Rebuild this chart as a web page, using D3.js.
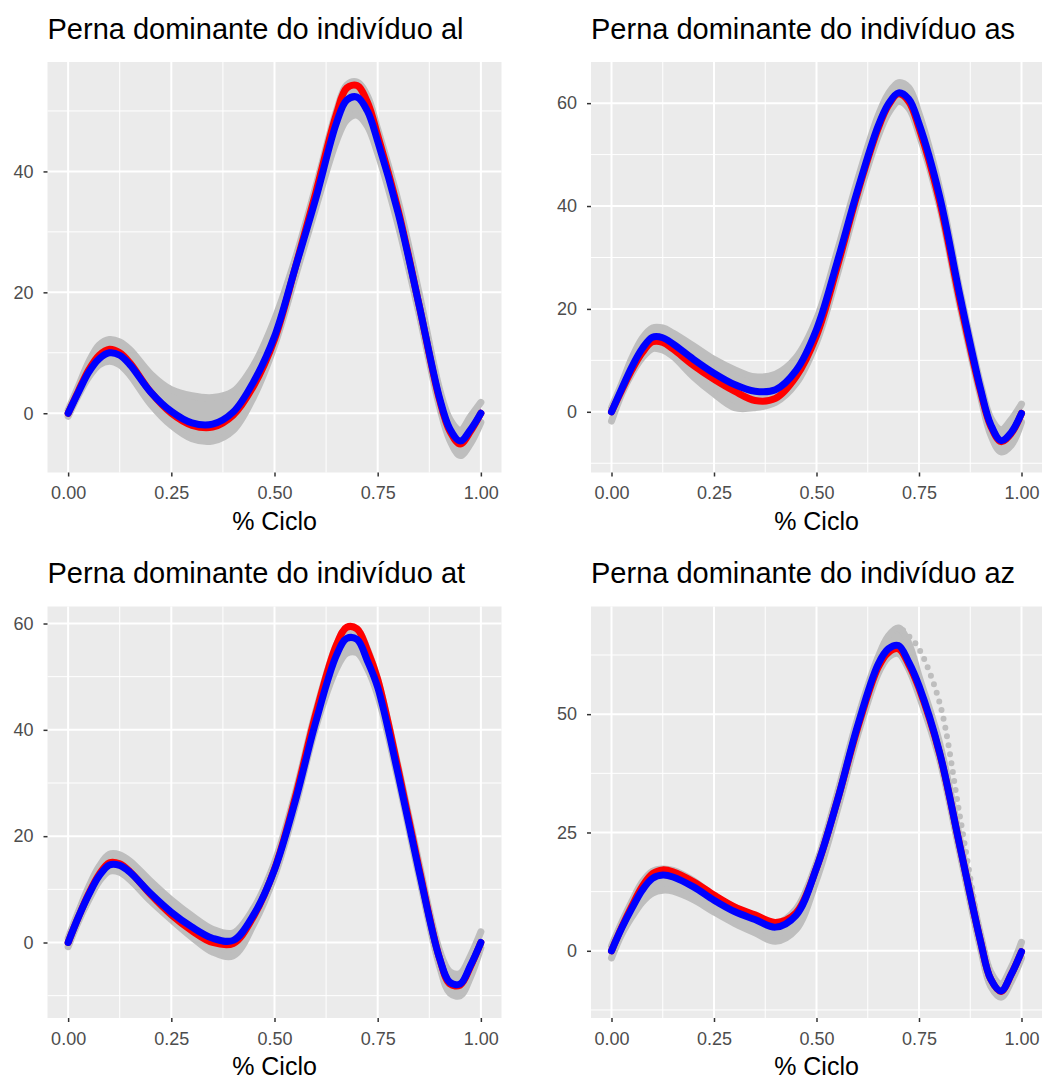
<!DOCTYPE html>
<html>
<head>
<meta charset="utf-8">
<script src="https://cdn.jsdelivr.net/npm/d3@7"></script>
<style>
  body { margin: 0; background: #fff; }
  svg { display: block; font-family: "Liberation Sans", Arial, sans-serif; }
</style>
</head>
<body>
<svg id="chart" width="1049" height="1079"></svg>
<script>
// sample positions along the cycle (same for every series)
const xKnots = [0, .025, .05, .075, .1, .125, .15, .2, .25, .3, .35, .4, .45, .5, .55, .6, .65, .675, .7, .725, .75, .8, .85, .9, .925, .95, .975, 1];
const xTicks = [0, 0.25, 0.5, 0.75, 1];

// individuo al
const alRed    = [0, 3.7, 7.2, 9.6, 10.6, 10.0, 8.3, 3.5, 0.0, -2.0, -2.3, -0.3, 4.6, 12.2, 24.0, 36.5, 49.5, 53.8, 54.2, 51.5, 46.0, 33.5, 18.0, 2.2, -3.0, -5.1, -3.0, 0];
const alBlue   = [0, 3.5, 6.8, 9.0, 10.0, 9.6, 8.0, 3.5, 0.3, -1.6, -1.8, 0.2, 5.3, 12.7, 24.0, 35.5, 48.0, 51.8, 52.3, 50.0, 45.0, 33.0, 18.0, 2.5, -2.6, -4.6, -2.7, 0];
const alGrayHi = [0.5, 4.5, 8.5, 11.3, 12.2, 11.8, 10.5, 6.5, 3.9, 2.9, 2.6, 3.6, 8.0, 15.5, 25.5, 37.5, 50.0, 54.3, 54.8, 52.5, 47.0, 35.0, 20.0, 4.0, -1.0, -2.8, -0.5, 1.8];
const alGrayLo = [-0.5, 3.0, 6.0, 8.0, 8.6, 8.0, 6.3, 1.5, -2.0, -4.2, -4.6, -2.8, 2.8, 11.2, 22.5, 34.0, 45.0, 48.5, 49.3, 47.5, 43.0, 31.0, 16.5, 1.0, -4.5, -7.0, -5.0, -1.5];
const alYTicks = [0, 20, 40];

// individuo as
const asRed    = [0, 4.2, 8.2, 11.5, 13.6, 13.5, 12.2, 9.0, 6.3, 4.0, 2.2, 2.6, 6.8, 14.8, 28.0, 42.5, 55.0, 59.5, 61.8, 60.3, 55.2, 41.0, 21.5, 4.0, -2.8, -5.8, -4.2, -0.3];
const asBlue   = [0, 4.5, 8.8, 12.3, 14.5, 14.4, 13.2, 10.2, 7.5, 5.3, 4.0, 4.3, 8.0, 16.0, 29.0, 43.0, 55.5, 59.8, 62.0, 60.8, 56.0, 42.0, 22.5, 4.5, -2.5, -5.6, -4.0, -0.3];
const asGrayHi = [0.8, 5.5, 10.5, 14.3, 16.3, 16.3, 15.3, 12.8, 10.2, 8.2, 6.8, 7.3, 10.5, 18.0, 31.0, 45.0, 57.5, 61.8, 64.0, 63.0, 58.0, 43.5, 23.5, 5.5, -1.2, -3.5, -1.5, 1.5];
const asGrayLo = [-1.8, 3.5, 7.5, 10.5, 12.3, 12.0, 10.8, 6.8, 3.5, 0.8, 0.8, 1.8, 5.5, 13.5, 26.5, 41.0, 53.5, 58.0, 60.3, 59.0, 54.0, 40.0, 20.5, 3.0, -4.5, -7.8, -6.5, -2.0];
const asYTicks = [0, 20, 40, 60];

// individuo at
const atRed    = [0, 4.8, 9.2, 12.8, 15.0, 14.8, 13.3, 9.0, 5.2, 2.2, 0.0, -0.2, 5.0, 13.8, 27.2, 43.0, 56.0, 59.3, 59.0, 55.0, 49.5, 32.5, 14.0, -3.0, -7.8, -8.0, -4.5, 0];
const atBlue   = [0, 4.8, 9.0, 12.5, 14.6, 14.5, 13.2, 9.2, 5.7, 2.9, 0.8, 0.4, 5.3, 13.7, 26.5, 41.5, 54.0, 57.2, 57.0, 53.0, 48.0, 31.5, 13.5, -3.0, -7.5, -7.8, -4.3, 0];
const atGrayHi = [0.8, 5.8, 10.5, 14.3, 16.6, 16.5, 15.3, 11.5, 8.0, 5.0, 2.5, 1.8, 6.5, 15.0, 28.0, 43.5, 56.0, 59.2, 59.0, 55.2, 49.5, 33.0, 15.0, -1.5, -5.5, -5.8, -2.5, 2.0];
const atGrayLo = [-0.8, 4.0, 8.0, 11.5, 13.4, 13.2, 11.8, 7.8, 4.3, 1.0, -1.8, -2.5, 3.5, 12.5, 25.5, 40.5, 51.5, 54.4, 54.5, 51.5, 46.5, 30.5, 12.5, -4.5, -9.5, -10.0, -6.5, -1.0];
const atYTicks = [0, 20, 40, 60];

// individuo az
const azRed    = [0, 5.0, 9.5, 13.6, 16.3, 17.1, 16.7, 14.6, 11.8, 9.3, 7.6, 6.0, 8.0, 17.5, 31.5, 47.0, 59.8, 63.0, 63.8, 60.5, 55.5, 41.8, 22.0, 2.0, -6.0, -8.6, -5.0, -0.2];
const azBlue   = [0, 4.8, 9.0, 12.8, 15.3, 16.0, 15.6, 13.5, 10.7, 8.3, 6.6, 5.0, 7.5, 17.5, 31.5, 47.5, 60.5, 63.8, 64.5, 61.0, 56.0, 42.0, 22.0, 2.0, -6.0, -8.5, -5.0, -0.2];
const azGrayHi = [1.0, 6.0, 10.5, 14.5, 16.8, 17.3, 17.0, 14.8, 11.6, 9.2, 7.3, 5.8, 8.8, 18.5, 33.0, 49.0, 62.0, 66.5, 68.2, 65.0, 58.0, 44.0, 23.5, 3.5, -4.5, -7.0, -3.5, 1.8];
const azGrayLo = [-1.5, 3.5, 7.2, 10.3, 12.2, 12.8, 12.6, 10.8, 8.2, 5.8, 3.8, 2.0, 4.5, 15.0, 29.5, 45.5, 58.5, 62.0, 62.8, 59.5, 54.0, 40.5, 20.5, 0.5, -7.5, -9.8, -6.5, -1.5];
const azOutlier = [0, 4.8, 9.0, 12.5, 15.0, 15.5, 15.0, 13.0, 10.5, 8.0, 6.0, 4.5, 7.0, 17.0, 31.5, 48.0, 61.5, 66.5, 68.2, 66.5, 63.8, 52.5, 28.3, 3.5, -5.0, -8.5, -5.5, -0.5];
const azYTicks = [0, 25, 50];

const titles = ['Perna dominante do indivíduo al', 'Perna dominante do indivíduo as',
                'Perna dominante do indivíduo at', 'Perna dominante do indivíduo az'];
const xTitle = '% Ciclo';

// layout of the four facets (pixel boxes of the grey panels)
const panels = [
  {title: titles[0], red: alRed, blue: alBlue, hi: alGrayHi, lo: alGrayLo, ticks: alYTicks, ydom: [-9.8, 58.1],
   box: {l: 47.5, r: 501.5, t: 62, b: 472.5}},
  {title: titles[1], red: asRed, blue: asBlue, hi: asGrayHi, lo: asGrayLo, ticks: asYTicks, ydom: [-11.8, 68.0],
   box: {l: 591, r: 1042, t: 62, b: 472.5}},
  {title: titles[2], red: atRed, blue: atBlue, hi: atGrayHi, lo: atGrayLo, ticks: atYTicks, ydom: [-14.2, 63.2],
   box: {l: 47.5, r: 501.5, t: 606.5, b: 1018}},
  {title: titles[3], red: azRed, blue: azBlue, hi: azGrayHi, lo: azGrayLo, ticks: azYTicks, ydom: [-14.2, 72.75],
   box: {l: 591, r: 1042, t: 606.5, b: 1018}, extra: azOutlier}
];

const svg = d3.select('#chart');

function minorOf(ticks, dom) {
  const step = ticks[1] - ticks[0];
  const out = [];
  for (let v = ticks[0] - step / 2; v <= dom[1]; v += step) {
    if (v >= dom[0]) out.push(v);
  }
  return out;
}

panels.forEach((p, i) => {
  const b = p.box;
  const x = d3.scaleLinear().domain([-0.05, 1.05]).range([b.l, b.r]);
  const y = d3.scaleLinear().domain(p.ydom).range([b.b, b.t]);
  const g = svg.append('g');

  g.append('rect')
    .attr('x', b.l).attr('y', b.t)
    .attr('width', b.r - b.l).attr('height', b.b - b.t)
    .attr('fill', '#EBEBEB');

  // grid
  const xMinor = [0.125, 0.375, 0.625, 0.875];
  g.selectAll('.xminor').data(xMinor).enter().append('line')
    .attr('x1', d => x(d)).attr('x2', d => x(d)).attr('y1', b.t).attr('y2', b.b)
    .attr('stroke', '#fff').attr('stroke-width', 1);
  g.selectAll('.yminor').data(minorOf(p.ticks, p.ydom)).enter().append('line')
    .attr('x1', b.l).attr('x2', b.r).attr('y1', d => y(d)).attr('y2', d => y(d))
    .attr('stroke', '#fff').attr('stroke-width', 1);
  g.selectAll('.xmajor').data(xTicks).enter().append('line')
    .attr('x1', d => x(d)).attr('x2', d => x(d)).attr('y1', b.t).attr('y2', b.b)
    .attr('stroke', '#fff').attr('stroke-width', 2);
  g.selectAll('.ymajor').data(p.ticks).enter().append('line')
    .attr('x1', b.l).attr('x2', b.r).attr('y1', d => y(d)).attr('y2', d => y(d))
    .attr('stroke', '#fff').attr('stroke-width', 2);

  const clipId = 'clip' + i;
  g.append('clipPath').attr('id', clipId).append('rect')
    .attr('x', b.l).attr('y', b.t).attr('width', b.r - b.l).attr('height', b.b - b.t);
  const plot = g.append('g').attr('clip-path', `url(#${clipId})`);

  const curve = d3.curveCatmullRom;
  const line = d3.line().x((d, k) => x(xKnots[k])).y(d => y(d)).curve(curve);
  const area = d3.area().x((d, k) => x(xKnots[k]))
    .y0((d, k) => y(p.lo[k])).y1((d, k) => y(p.hi[k])).curve(curve);

  // band of the individual cycles
  plot.append('path').datum(p.hi).attr('d', area).attr('fill', '#BEBEBE');
  [p.hi, p.lo].forEach(s => {
    plot.append('path').datum(s).attr('d', line)
      .attr('fill', 'none').attr('stroke', '#BEBEBE').attr('stroke-width', 7)
      .attr('stroke-linecap', 'round').attr('stroke-linejoin', 'round');
  });
  if (p.extra) {
    plot.append('path').datum(p.extra).attr('d', line)
      .attr('fill', 'none').attr('stroke', '#BEBEBE').attr('stroke-width', 6)
      .attr('stroke-linecap', 'round').attr('stroke-dasharray', '0 9');
  }

  [[p.red, '#FF0000'], [p.blue, '#0000FF']].forEach(([s, c]) => {
    plot.append('path').datum(s).attr('d', line)
      .attr('fill', 'none').attr('stroke', c).attr('stroke-width', 7)
      .attr('stroke-linecap', 'round').attr('stroke-linejoin', 'round');
  });

  // axes
  const xAxis = d3.axisBottom(x).tickValues(xTicks).tickFormat(d3.format('.2f'))
    .tickSize(4).tickPadding(10);
  const yAxis = d3.axisLeft(y).tickValues(p.ticks).tickFormat(d3.format('d'))
    .tickSize(4).tickPadding(10);
  [g.append('g').attr('transform', `translate(0,${b.b})`).call(xAxis),
   g.append('g').attr('transform', `translate(${b.l},0)`).call(yAxis)].forEach(a => {
    a.select('.domain').remove();
    a.selectAll('line').attr('stroke', '#333333').attr('stroke-width', 1.5);
    a.selectAll('text').attr('fill', '#4D4D4D').style('font-size', '18px')
      .style('font-family', '"Liberation Sans", Arial, sans-serif');
  });

  g.append('text')
    .attr('x', (b.l + b.r) / 2).attr('y', b.b + 57)
    .attr('text-anchor', 'middle')
    .style('font-size', '25px').attr('fill', '#000')
    .text(xTitle);

  g.append('text')
    .attr('x', b.l).attr('y', b.t - 23.5)
    .style('font-size', '29px').attr('fill', '#000')
    .text(p.title);
});
</script>
</body>
</html>
